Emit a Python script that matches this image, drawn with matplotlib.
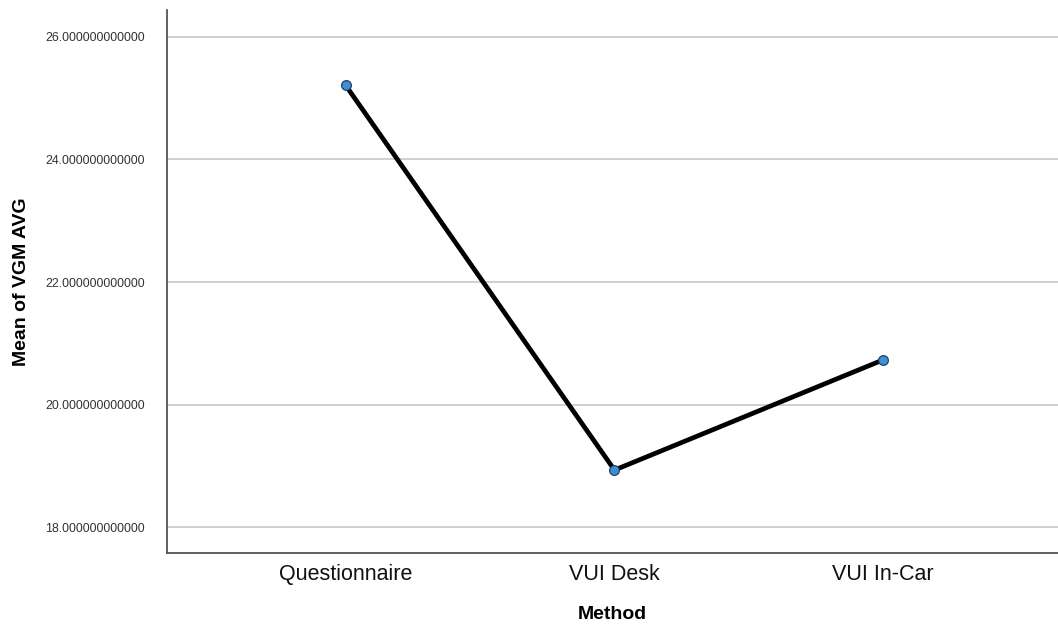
import matplotlib
matplotlib.use("Agg")
import matplotlib.pyplot as plt

methods = ["Questionnaire", "VUI Desk", "VUI In-Car"]
mean_vgm_avg = [25.21, 18.93, 20.73]
y_ticks = [18, 20, 22, 24, 26]

plt.rcParams["font.family"] = ["Liberation Sans", "DejaVu Sans"]

fig = plt.figure(figsize=(10.58, 6.26), dpi=100)
ax = fig.add_axes([0.1578, 0.1166, 0.8422, 0.8674])

x = list(range(len(methods)))
ax.plot(x, mean_vgm_avg, color="black", lw=3.4, zorder=3,
        marker="o", markersize=7, markerfacecolor="#3d8fd8",
        markeredgecolor="#23405e", markeredgewidth=0.9)

ax.set_xlim(-0.665, 2.65)
ax.set_ylim(17.576, 26.44)
ax.set_yticks(y_ticks)
ax.set_yticklabels([f"{v:.12f}" for v in y_ticks], fontsize=8.9, color="#333333")
ax.set_xticks(x)
ax.set_xticklabels(methods, fontsize=15.5, color="#111111")
ax.tick_params(axis="both", length=0)
ax.tick_params(axis="y", pad=16)
ax.tick_params(axis="x", pad=8)

ax.grid(axis="y", color="#c8c8c8", lw=1.2)
ax.set_axisbelow(True)
for side in ("top", "right"):
    ax.spines[side].set_visible(False)
for side in ("left", "bottom"):
    ax.spines[side].set_color("#555555")
    ax.spines[side].set_linewidth(1.3)

ax.set_ylabel("Mean of VGM AVG", fontsize=14, fontweight="bold", labelpad=11)
ax.set_xlabel("Method", fontsize=14, fontweight="bold", labelpad=15)

fig.savefig("out.png", dpi=100)
